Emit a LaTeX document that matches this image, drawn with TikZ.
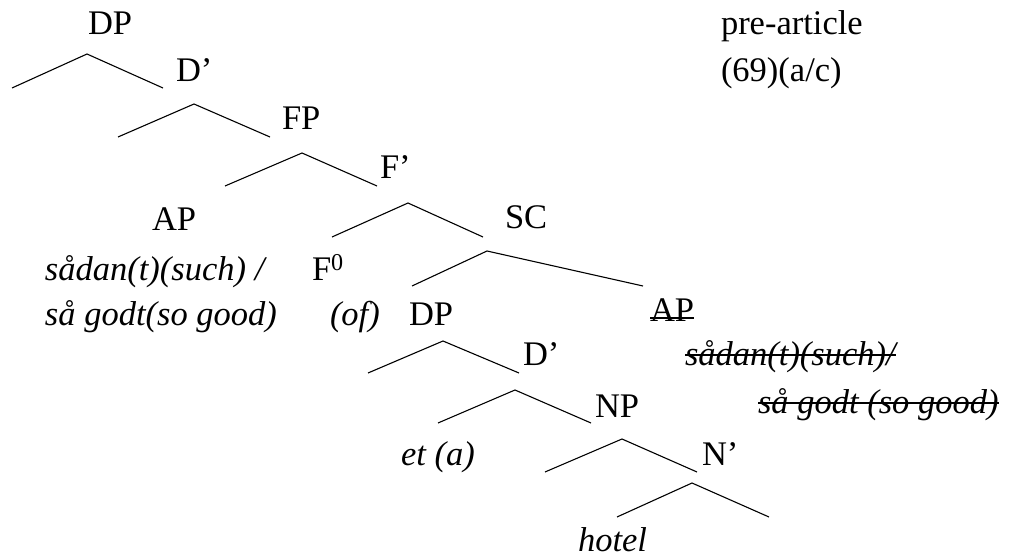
\documentclass[tikz,border=0pt]{standalone}
\usepackage{fontspec}
\setmainfont{Liberation Serif}
\begin{document}
\begin{tikzpicture}[x=1pt,y=-1pt,
  lbl/.style={anchor=base west,inner sep=0pt,outer sep=0pt,font=\fontsize{34.5}{40}\selectfont},
  ilbl/.style={lbl,font=\fontsize{34.5}{40}\selectfont\itshape},
  branch/.style={line width=1.1pt,line join=miter},
  strike/.style={line width=1.1pt}]
\useasboundingbox (0,0) rectangle (1013,559);
% labels
\node[lbl] (dp1) at (88,35) {DP};
\node[lbl] (d1) at (176,82) {D’};
\node[lbl] (fp) at (282,130) {FP};
\node[lbl] (f1) at (380,179) {F’};
\node[lbl] (ap1) at (152,230) {AP};
\node[lbl] (sc) at (505,229) {SC};
\node[ilbl] (sadan1) at (45,280) {sådan(t)(such) /};
\node[lbl] (f0) at (312,280) {F$^{\mathrm{0}}$};
\node[ilbl] (sagodt1) at (45,325) {så godt(so good)};
\node[ilbl] (of) at (330,325) {(of)};
\node[lbl] (dp2) at (409,325) {DP};
\node[lbl] (ap2) at (650,321) {AP};
\node[lbl] (d2) at (523,365) {D’};
\node[ilbl] (sadan2) at (685,365) {sådan(t)(such)/};
\node[lbl] (np) at (595,417) {NP};
\node[ilbl] (sagodt2) at (758,413) {så godt (so good)};
\node[ilbl] (et) at (401,465) {et (a)};
\node[lbl] (n1) at (702,465) {N’};
\node[ilbl] (hotel) at (578,551) {hotel};
\node[lbl] (pre) at (721,35) {pre-article};
\node[lbl] (ex) at (721,82) {(69)(a/c)};
% strike-outs
\draw[strike] ([yshift=3pt]ap2.base west) -- ([yshift=3pt]ap2.base east);
\draw[strike] ([yshift=10pt]sadan2.base west) -- ([yshift=10pt]sadan2.base east);
\draw[strike] ([yshift=10pt]sagodt2.base west) -- ([yshift=10pt]sagodt2.base east);
% branch points
\coordinate (a1) at (87,54);   \coordinate (l1) at (12,88);   \coordinate (r1) at (163,88);
\coordinate (a2) at (194,104); \coordinate (l2) at (118,137); \coordinate (r2) at (270,137);
\coordinate (a3) at (302,153); \coordinate (l3) at (225,186); \coordinate (r3) at (377,186);
\coordinate (a4) at (408,203); \coordinate (l4) at (332,237); \coordinate (r4) at (483,237);
\coordinate (a5) at (487,251); \coordinate (l5) at (412,286); \coordinate (r5) at (643,286);
\coordinate (a6) at (443,341); \coordinate (l6) at (368,373); \coordinate (r6) at (519,373);
\coordinate (a7) at (515,390); \coordinate (l7) at (438,423); \coordinate (r7) at (591,423);
\coordinate (a8) at (622,439); \coordinate (l8) at (545,472); \coordinate (r8) at (697,472);
\coordinate (a9) at (692,483); \coordinate (l9) at (617,517); \coordinate (r9) at (769,517);
\foreach \i in {1,...,9} \draw[branch] (l\i) -- (a\i) -- (r\i);
\end{tikzpicture}
\end{document}
